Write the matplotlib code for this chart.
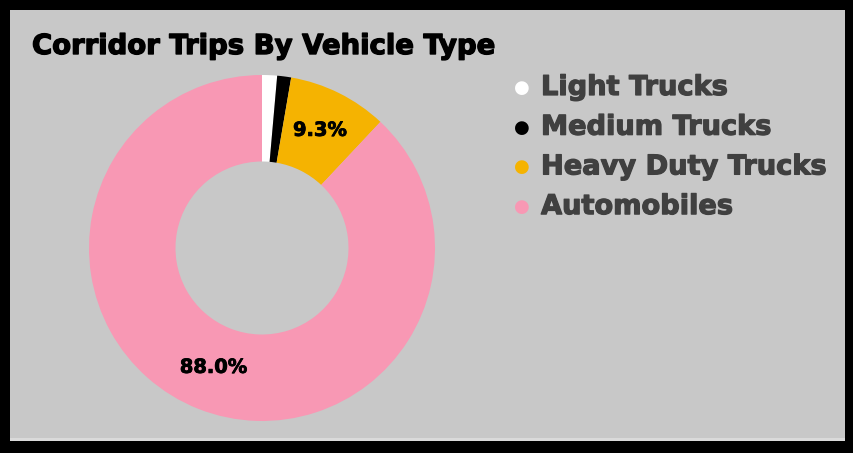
import numpy as np
import matplotlib.pyplot as plt
import matplotlib.patheffects as pe
from matplotlib.patches import Rectangle

categories = ['Light Trucks', 'Medium Trucks', 'Heavy Duty Trucks', 'Automobiles']
shares = [1.4, 1.3, 9.3, 88.0]
colors = ['#ffffff', '#000000', '#f5b301', '#f898b4']
shown = ['Heavy Duty Trucks', 'Automobiles']

W, H = 854, 453
fig = plt.figure(figsize=(W / 100, H / 100), dpi=100, facecolor='black')

# gray panel inside the black frame
fig.patches.append(Rectangle((10 / W, 15 / H), 835 / W, 428 / H,
                             transform=fig.transFigure, facecolor='#c8c8c8',
                             edgecolor='none', zorder=-2))
fig.patches.append(Rectangle((10 / W, 12 / H), 835 / W, 3 / H,
                             transform=fig.transFigure, facecolor='#dadada',
                             edgecolor='none', zorder=-2))

fig.text(32 / W, 1 - 46 / H, 'Corridor Trips By Vehicle Type', fontsize=19.8,
         fontweight='bold', family='DejaVu Sans', color='black', va='center',
         path_effects=[pe.withStroke(linewidth=1.0, foreground='black')])

# donut
cx, cy, r = 262, 248, 173
ax = fig.add_axes([(cx - r) / W, 1 - (cy + r) / H, 2 * r / W, 2 * r / H])
ax.set_facecolor('none')
ax.pie(shares, colors=colors, startangle=90, counterclock=False,
       radius=1.0, wedgeprops=dict(width=0.5, edgecolor='none'))
ax.set_xlim(-1, 1)
ax.set_ylim(-1, 1)
ax.set_aspect('equal')
ax.axis('off')

label_pos = {'Heavy Duty Trucks': (0.335, 0.68), 'Automobiles': (-0.28, -0.69)}
for name, v in zip(categories, shares):
    if name not in shown:
        continue
    x, y = label_pos[name]
    ax.text(x, y, f'{v:.1f}%', ha='center', va='center',
            fontsize=14, fontweight='bold', family='DejaVu Sans', color='black',
            path_effects=[pe.withStroke(linewidth=0.6, foreground='black')])

# legend
for i, (name, c) in enumerate(zip(categories, colors)):
    y = 1 - (88 + i * 39.7) / H
    fig.text(522 / W, y, '\u25cf', fontsize=13, color=c, ha='center', va='center',
             family='DejaVu Sans')
    fig.text(541 / W, y, name, fontsize=19.6, fontweight='bold', color='#404040',
             family='DejaVu Sans', va='center',
             path_effects=[pe.withStroke(linewidth=0.9, foreground='#404040')])

fig.savefig('out.png', dpi=100, facecolor='black')
